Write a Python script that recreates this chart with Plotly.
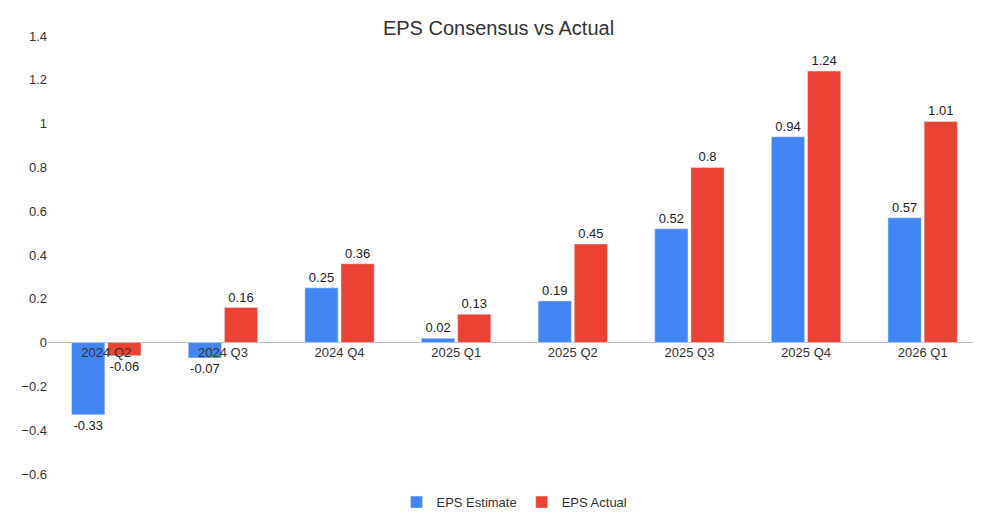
"""
EPS chart generator
Generates a grouped bar chart comparing EPS consensus and actual values
"""

import plotly.graph_objects as go

QUARTERS = ['2024 Q2', '2024 Q3', '2024 Q4', '2025 Q1', '2025 Q2', '2025 Q3', '2025 Q4', '2026 Q1']
EPS_ESTIMATE = [-0.33, -0.07, 0.25, 0.02, 0.19, 0.52, 0.94, 0.57]
EPS_ACTUAL = [-0.06, 0.16, 0.36, 0.13, 0.45, 0.8, 1.24, 1.01]
Y_TICKS = [-0.6, -0.4, -0.2, 0, 0.2, 0.4, 0.6, 0.8, 1, 1.2, 1.4]


class EpsChartGenerator:
    """Generator for the EPS consensus chart"""

    def __init__(self, output_file: str = "out.html"):
        """
        Initialise the generator

        Args:
            output_file: output HTML file
        """
        self.output_file = output_file

    def generate_eps_chart(self) -> go.Figure:
        """
        Builds the grouped bar chart

        Returns:
            Plotly figure
        """
        fig = go.Figure()

        # Estimate and actual bars
        for name, values, color in [('EPS Estimate', EPS_ESTIMATE, '#4285F4'),
                                    ('EPS Actual', EPS_ACTUAL, '#EA4335')]:
            fig.add_trace(go.Bar(
                x=QUARTERS,
                y=values,
                name=name,
                marker_color=color,
                text=[f"{v:g}" for v in values],
                textposition='outside',
                textfont=dict(size=13, color='#222222'),
                cliponaxis=False
            ))

        ymin, ymax = Y_TICKS[0], Y_TICKS[-1]
        fig.update_layout(
            title=dict(text="EPS Consensus vs Actual", x=0.5, y=0.975,
                       font=dict(size=20, color='#333333')),
            font=dict(family='Liberation Sans, Arial, sans-serif', size=13, color='#333333'),
            plot_bgcolor='white',
            paper_bgcolor='white',
            barmode='group',
            bargap=0.38,
            bargroupgap=0.08,
            width=981,
            height=517,
            margin=dict(l=40, r=8, t=28, b=41),
            legend=dict(orientation='h', x=0.5, xanchor='center', y=-0.03, yanchor='top',
                        font=dict(size=13)),
            xaxis=dict(anchor='free', position=(0 - ymin) / (ymax - ymin),
                       showline=False, ticks='', tickfont=dict(size=13, color='#333333')),
            yaxis=dict(range=[ymin, ymax], tickvals=Y_TICKS, showgrid=False,
                       zeroline=True, zerolinecolor='#bbbbbb', zerolinewidth=1,
                       tickfont=dict(size=13, color='#333333'))
        )

        return fig

    def save(self, fig: go.Figure) -> str:
        """Writes the figure to HTML"""
        fig.write_html(self.output_file)
        return self.output_file


generator = EpsChartGenerator()
generator.save(generator.generate_eps_chart())
